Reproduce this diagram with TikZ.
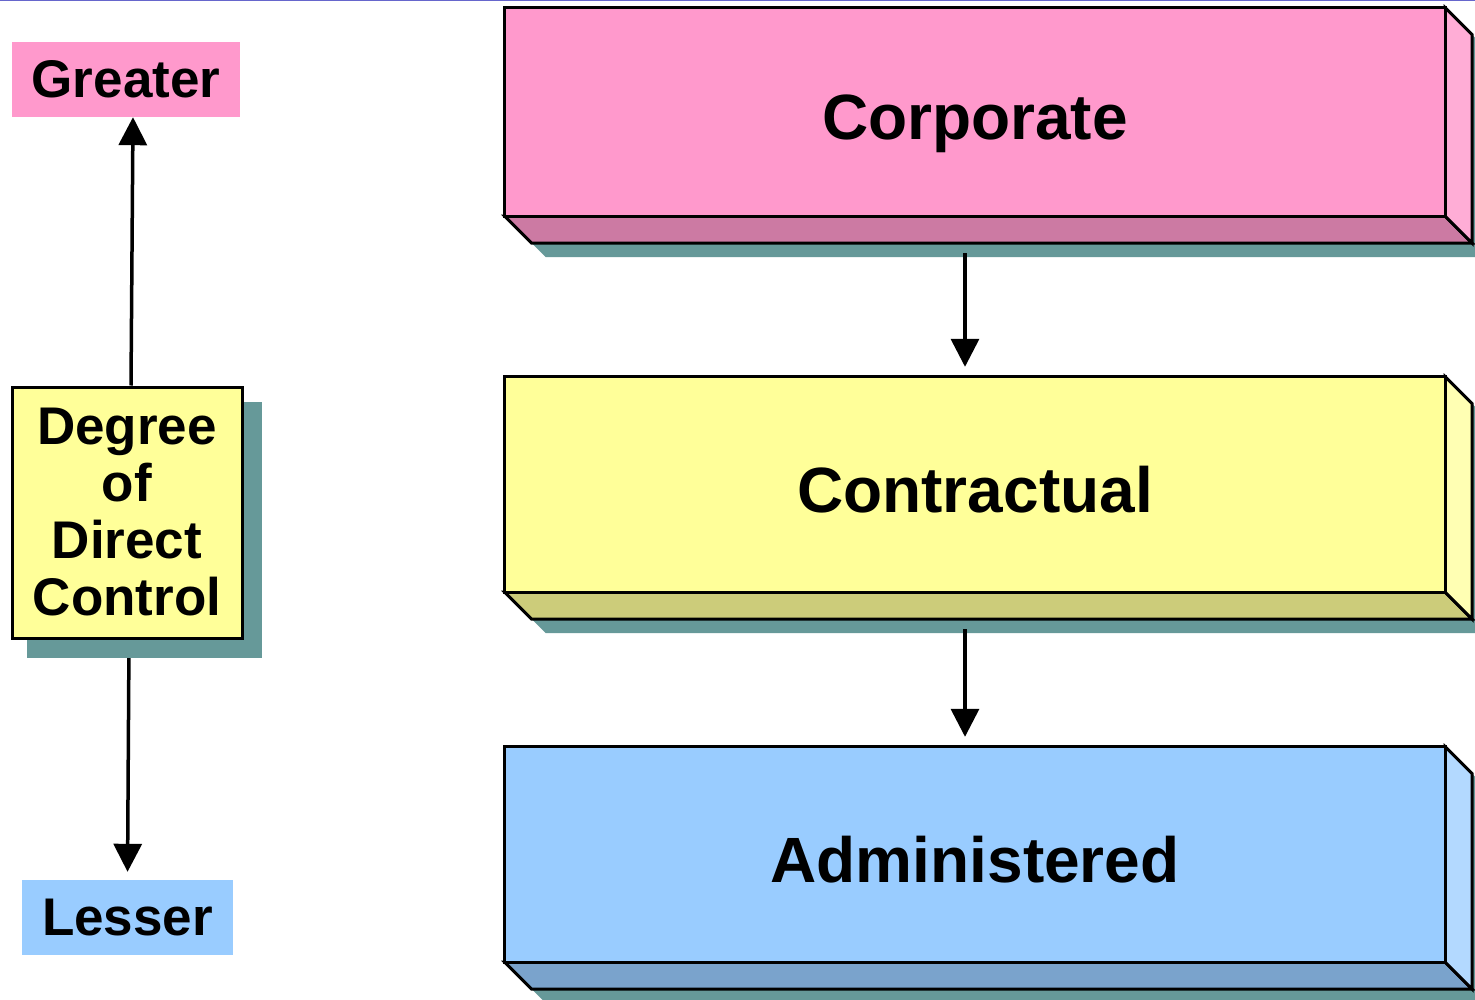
\documentclass[tikz,border=0pt]{standalone}
\usepackage{fontspec}
\setmainfont{Liberation Sans}
\usetikzlibrary{arrows.meta,backgrounds,calc}
\definecolor{shadowteal}{HTML}{669999}
\definecolor{pinkF}{HTML}{FF99CC}
\definecolor{pinkB}{HTML}{CC7AA3}
\definecolor{pinkS}{HTML}{FFADD6}
\definecolor{yelF}{HTML}{FFFF99}
\definecolor{yelB}{HTML}{CCCC7A}
\definecolor{yelS}{HTML}{FFFFB3}
\definecolor{bluF}{HTML}{99CCFF}
\definecolor{bluB}{HTML}{7AA3CC}
\definecolor{bluS}{HTML}{B3D9FF}
\definecolor{topline}{HTML}{6666CC}
\newcommand{\boxthreed}[4]{%
  \fill[shadowteal] ($(#1.north west)+(14,14)$) -- ($(#1.north east)+(14,14)$) -- ($(#1.north east)+(41,41)$) -- ($(#1.south east)+(41,41)$) -- ($(#1.south west)+(41,41)$) -- ($(#1.south west)+(14,14)$) -- cycle;
  \draw[faceline, fill=#3] (#1.south west) -- ($(#1.south west)+(27,27)$) -- ($(#1.south east)+(27,27)$) -- (#1.south east) -- cycle;
  \draw[faceline, fill=#4] (#1.north east) -- ($(#1.north east)+(27,27)$) -- ($(#1.south east)+(27,27)$) -- (#1.south east) -- cycle;
  \draw[faceline, fill=#2] (#1.north west) rectangle (#1.south east);
}
\tikzset{
  faceline/.style={line width=3pt, line join=miter},
  bigbox/.style={minimum width=940pt, inner sep=0pt, text height=55pt, text depth=0pt, font=\fontsize{64}{70}\selectfont\bfseries},
  sidelabel/.style={inner sep=0pt, font=\fontsize{53}{57}\selectfont\bfseries},
  arr/.style={line width=3.5pt, -{Triangle[width=28pt,length=28pt]}}
}
\begin{document}
\begin{tikzpicture}[x=1pt,y=-1pt]
\useasboundingbox (0,0) rectangle (1475,1000);

% right-hand boxes
\node[bigbox, minimum height=208pt] (corp) at (975,112) {Corporate};
\node[bigbox, minimum height=215pt] (contr) at (975,484.5) {Contractual};
\node[bigbox, minimum height=215pt] (admin) at (975,854.5) {Administered};

% left-hand column
\node[sidelabel, fill=pinkF, minimum width=228pt, minimum height=75pt] (gr) at (126,79.5) {Greater};
\node[sidelabel, fill=bluF, minimum width=211pt, minimum height=75pt] (les) at (127.5,917.5) {Lesser};
\node[sidelabel, fill=yelF, draw, line width=3pt, minimum width=230pt, minimum height=251pt, align=center] (deg) at (127,512.5) {Degree\\of\\Direct\\Control};

\begin{pgfonlayer}{background}
  \fill[white] (0,0) rectangle (1475,1000);
  \draw[topline, line width=2pt] (0,0.5) -- (1475,0.5);
  \boxthreed{corp}{pinkF}{pinkB}{pinkS}
  \boxthreed{contr}{yelF}{yelB}{yelS}
  \boxthreed{admin}{bluF}{bluB}{bluS}
  \draw[arr, shorten <=37pt, shorten >=10pt] ([xshift=-10pt]corp.south) -- ([xshift=-10pt]contr.north);
  \draw[arr, shorten <=37pt, shorten >=10pt] ([xshift=-10pt]contr.south) -- ([xshift=-10pt]admin.north);
  \draw[arr] ([xshift=4pt]deg.north) -- ([xshift=7pt]gr.south);
  \draw[arr, shorten >=8pt] ([xshift=2pt]deg.south) -- (les.north);
  \fill[shadowteal] ($(deg.north west)+(16,16)$) rectangle ($(deg.south east)+(18,18)$);
\end{pgfonlayer}
\end{tikzpicture}
\end{document}
